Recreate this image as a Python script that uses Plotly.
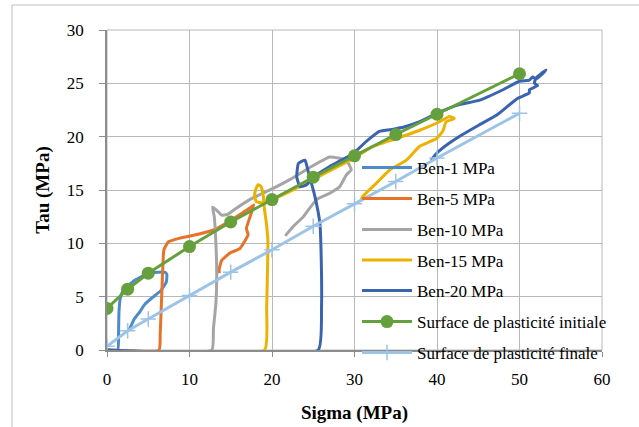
import plotly.graph_objects as go

# ---- data ----
b1_x = [0, 1.3, 1.4, 1.45, 1.6, 1.9, 2.4, 3.5, 5.0, 6.2, 7.0, 7.25, 7.2, 6.9, 6.45, 5.4, 4.6, 4.0, 3.3, 3.0, 2.6]
b1_y = [0, 0, 1.5, 3.5, 4.8, 5.5, 5.9, 6.6, 7.2, 7.3, 7.3, 7.1, 6.4, 6.0, 5.5, 4.85, 4.3, 3.6, 2.9, 2.4, 1.8]

b5_x = [0, 6.3, 6.45, 6.6, 6.75, 6.9, 7.45, 8.9, 11.3, 12.9, 14.9, 16.5, 17.5, 17.8, 17.3, 16.9, 17.1, 16.1, 14.9, 13.9, 13.6, 13.6]
b5_y = [0, 0, 1.5, 4.5, 7.5, 9.4, 10.15, 10.5, 10.9, 11.25, 12.1, 12.9, 13.4, 13.6, 12.4, 11.4, 10.8, 9.5, 9.1, 8.4, 7.6, 7.2]

b10_x = [0, 12.7, 12.9, 13.2, 13.3, 13.2, 13.0, 12.8, 13.3, 13.9, 14.6, 15.5, 17.3, 20.0, 22.2, 25.0, 27.0, 29.0, 29.6, 29.0, 28.2, 27.0, 25.4, 23.8, 22.6, 21.6]
b10_y = [0, 0, 2.0, 4.4, 7.0, 10.0, 12.5, 13.4, 13.1, 12.65, 12.7, 13.2, 14.1, 15.1, 16.0, 17.3, 18.1, 17.8, 16.9, 16.4, 15.3, 14.7, 14.1, 12.5, 11.6, 10.7]

b15_x = [0, 19.1, 19.35, 19.5, 19.3, 19.1, 18.9, 18.6, 18.3, 18.0, 17.9, 18.1, 18.8, 20.0, 22.0, 25.0, 28.0, 30.0, 32.0, 35.0, 37.9, 40.3, 41.5, 42.1, 41.1, 40.7, 39.9, 37.9, 36.3, 34.3, 32.6, 31.0, 30.7]
b15_y = [0, 0, 4.0, 10.3, 12.0, 13.1, 14.7, 15.4, 15.5, 15.0, 14.4, 13.9, 13.8, 14.1, 14.8, 16.0, 17.2, 18.0, 19.0, 19.8, 20.6, 21.4, 21.9, 21.7, 21.4, 20.5, 19.8, 19.1, 17.8, 16.9, 15.6, 14.4, 13.9]

b20_x = [0, 25.6, 26.0, 26.0, 25.8, 25.2, 24.4, 24.0, 23.2, 23.0, 23.4, 24.2, 25.0, 27.0, 29.8, 31.5, 33.0, 34.7, 36.0, 37.9, 40.3, 42.7, 45.1, 48.0, 50.0, 51.2, 51.6, 52.0, 52.8, 53.2,
         52.0, 51.8, 52.2, 51.2, 51.2, 49.8, 48.8, 47.2, 45.1, 43.1, 41.5, 39.9, 39.3]
b20_y = [0, 0, 4.0, 7.2, 11.9, 14.4, 16.7, 17.8, 17.5, 16.2, 15.3, 15.5, 16.2, 17.2, 18.4, 19.6, 20.5, 20.7, 20.9, 21.4, 22.3, 23.0, 23.4, 24.4, 25.2, 25.3, 25.6, 25.4, 25.9, 26.25,
         25.5, 25.0, 24.8, 24.4, 24.1, 23.6, 23.0, 22.0, 21.1, 20.2, 19.4, 18.4, 17.8]

surf_x = [0, 2.5, 5, 10, 15, 20, 25, 30, 35, 40, 50]
init_y = [3.9, 5.7, 7.2, 9.7, 12.0, 14.1, 16.2, 18.2, 20.2, 22.1, 25.9]
final_y = [0.35, 1.8, 2.9, 5.1, 7.3, 9.4, 11.6, 13.7, 15.8, 18.0, 22.2]

names = ["Ben-1 MPa", "Ben-5 MPa", "Ben-10 MPa", "Ben-15 MPa", "Ben-20 MPa",
         "Surface de plasticité initiale", "Surface de plasticité finale"]
x_ticks = [0, 10, 20, 30, 40, 50, 60]
y_ticks = [0, 5, 10, 15, 20, 25, 30]

colors = ["#4C8BC8", "#E8722A", "#A5A5A5", "#EDB100", "#3A63B0", "#66A03C", "#9DC3E6"]

W, H = 639, 427
ML, MR, MT, MB = 107, 37, 30, 77
PW, PH = W - ML - MR, H - MT - MB
FONT = "'Liberation Serif', 'Times New Roman', Times, serif"

fig = go.Figure()
curves = [(b1_x, b1_y), (b5_x, b5_y), (b10_x, b10_y), (b15_x, b15_y), (b20_x, b20_y)]
legend_ids = ["legend"] + [f"legend{i}" for i in range(2, 8)]
for i, (xs, ys) in enumerate(curves):
    fig.add_trace(go.Scatter(x=xs, y=ys, mode="lines", name=names[i],
                             line=dict(color=colors[i], width=3, shape="spline", smoothing=0.4),
                             legend=legend_ids[i]))

fig.add_trace(go.Scatter(x=surf_x, y=init_y, mode="lines+markers", name=names[5],
                         line=dict(color=colors[5], width=3),
                         marker=dict(symbol="circle", size=13, color=colors[5]),
                         legend=legend_ids[5]))
fig.add_trace(go.Scatter(x=surf_x, y=final_y, mode="lines+markers", name=names[6],
                         line=dict(color=colors[6], width=3),
                         marker=dict(symbol="cross-thin", size=11, color=colors[6],
                                     line=dict(color=colors[6], width=1.5)),
                         legend=legend_ids[6]))

# legend rows (pixel centres) -> one legend box per entry, spaced like the reference
row_px = [168, 199, 230, 260.5, 291, 322, 353]
legend_x = (357 - ML) / PW
layout_legends = {}
for i, lid in enumerate(legend_ids):
    layout_legends[lid] = dict(
        x=legend_x, xanchor="left", xref="paper",
        y=(MT + PH - row_px[i]) / PH, yanchor="middle", yref="paper",
        bgcolor="rgba(0,0,0,0)", borderwidth=0,
        font=dict(family=FONT, size=17, color="#000000"),
        itemwidth=50, itemsizing="trace",
    )

fig.update_layout(
    width=W, height=H,
    margin=dict(l=ML, r=MR, t=MT, b=MB, autoexpand=False),
    paper_bgcolor="white", plot_bgcolor="white",
    font=dict(family=FONT, size=16, color="#000000"),
    showlegend=True,
    **layout_legends,
)

fig.update_xaxes(
    range=[0, 60], tickvals=x_ticks, ticktext=[str(v) for v in x_ticks],
    showgrid=True, gridcolor="#B8B8B8", gridwidth=1,
    zeroline=False, showline=True, linecolor="#8C8C8C", linewidth=1.5,
    ticks="outside", ticklen=5, tickcolor="#8C8C8C", ticklabelstandoff=8,
    tickfont=dict(family=FONT, size=17, color="#000000"),
    title=dict(text="<b>Sigma (MPa)</b>", font=dict(family=FONT, size=19, color="#000000"), standoff=18),
    automargin=False,
)
fig.update_yaxes(
    range=[0, 30], tickvals=y_ticks, ticktext=[str(v) for v in y_ticks],
    showgrid=True, gridcolor="#B8B8B8", gridwidth=1,
    zeroline=False, showline=True, linecolor="#8C8C8C", linewidth=1.5,
    ticks="outside", ticklen=6, tickcolor="#8C8C8C", ticklabelstandoff=12,
    tickfont=dict(family=FONT, size=17, color="#000000"),
    title=dict(text="<b>Tau (MPa)</b>", font=dict(family=FONT, size=19, color="#000000"), standoff=12),
    automargin=False,
)

# plot-area frame and outer chart border
fig.add_shape(type="rect", xref="paper", yref="paper", x0=0, x1=1, y0=0, y1=1,
              line=dict(color="#B8B8B8", width=1), layer="below")
fig.add_shape(type="rect", xref="paper", yref="paper",
              x0=(12 - ML) / PW, x1=(W + 10 - ML) / PW,
              y0=(MT + PH - (H + 10)) / PH, y1=(MT + PH - 5) / PH,
              line=dict(color="#BFBFBF", width=1), layer="above")

fig.write_html("out.html", config={"displayModeBar": False},
               post_script="document.body.style.margin='0px';")
